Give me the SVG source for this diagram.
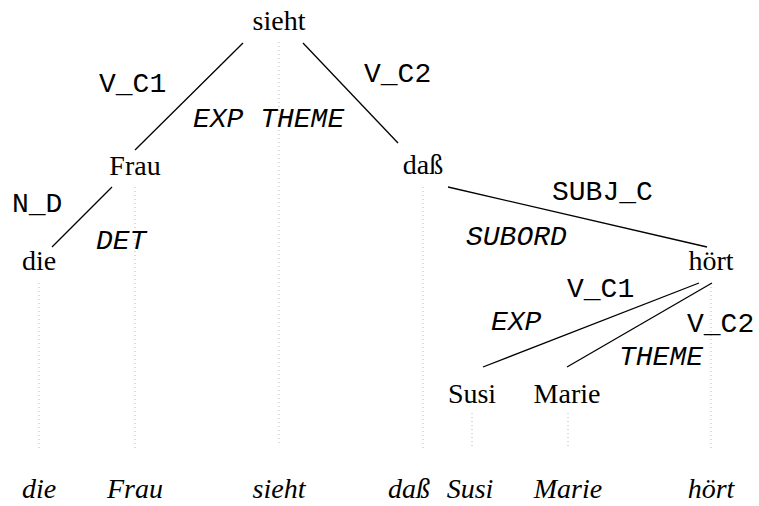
<svg xmlns="http://www.w3.org/2000/svg" width="759" height="506" viewBox="0 0 759 506">
  <style>
    .word { font-family: "Liberation Serif", "Times New Roman", serif; font-size: 28px; fill: #000; text-anchor: middle; }
    .gloss { font-family: "Liberation Serif", "Times New Roman", serif; font-size: 28px; font-style: italic; fill: #000; text-anchor: middle; }
    .rel { font-family: "Liberation Mono", "Courier New", monospace; font-size: 28px; fill: #000; }
    .role { font-family: "Liberation Mono", "Courier New", monospace; font-size: 28px; font-style: italic; fill: #000; }
    .edge { stroke: #000; stroke-width: 1.3; fill: none; }
    .proj { stroke: #b8b8b8; stroke-width: 1; stroke-dasharray: 1 3; fill: none; }
  </style>
  <rect width="759" height="506" fill="#fff"/>

  <!-- projection lines from each node down to the word row -->
  <g id="projections">
    <line class="proj" x1="39" y1="283" x2="39" y2="448"/>
    <line class="proj" x1="135" y1="187" x2="135" y2="448"/>
    <line class="proj" x1="279" y1="42" x2="279" y2="446"/>
    <line class="proj" x1="423" y1="187" x2="423" y2="448"/>
    <line class="proj" x1="472" y1="413" x2="472" y2="449"/>
    <line class="proj" x1="568" y1="413" x2="568" y2="449"/>
    <line class="proj" x1="711" y1="283" x2="711" y2="449"/>
  </g>

  <!-- dependency edges with their labels -->
  <g id="connectors">
    <line class="edge" x1="243" y1="43" x2="135" y2="150"/>
    <line class="edge" x1="303" y1="43" x2="398" y2="143"/>
    <line class="edge" x1="112" y1="187" x2="52" y2="247"/>
    <line class="edge" x1="448" y1="187" x2="707" y2="247"/>
    <line class="edge" x1="699" y1="283" x2="483" y2="367"/>
    <line class="edge" x1="712" y1="283" x2="567" y2="367"/>

    <text class="rel" x="99" y="92">V_C1</text>
    <text class="rel" x="364" y="82">V_C2</text>
    <text class="role" x="193" y="127">EXP THEME</text>
    <text class="rel" x="12" y="212">N_D</text>
    <text class="role" x="96" y="249">DET</text>
    <text class="rel" x="552" y="200">SUBJ_C</text>
    <text class="role" x="466" y="245">SUBORD</text>
    <text class="rel" x="567" y="297">V_C1</text>
    <text class="role" x="491" y="330">EXP</text>
    <text class="rel" x="687" y="332">V_C2</text>
    <text class="role" x="619" y="365">THEME</text>
  </g>

  <!-- tree nodes -->
  <g id="node-sieht"><text class="word" x="279" y="30">sieht</text></g>
  <g id="node-frau"><text class="word" x="135" y="175">Frau</text></g>
  <g id="node-dass"><text class="word" x="423" y="174">daß</text></g>
  <g id="node-die"><text class="word" x="39" y="270">die</text></g>
  <g id="node-hoert"><text class="word" x="711" y="270">hört</text></g>
  <g id="node-susi"><text class="word" x="472" y="403">Susi</text></g>
  <g id="node-marie"><text class="word" x="567" y="403">Marie</text></g>

  <!-- surface word order -->
  <g id="word-row">
    <text class="gloss" x="39" y="498">die</text>
    <text class="gloss" x="135" y="498">Frau</text>
    <text class="gloss" x="279" y="498">sieht</text>
    <text class="gloss" x="409" y="498">daß</text>
    <text class="gloss" x="470" y="498">Susi</text>
    <text class="gloss" x="568" y="498">Marie</text>
    <text class="gloss" x="711" y="498">hört</text>
  </g>
</svg>
